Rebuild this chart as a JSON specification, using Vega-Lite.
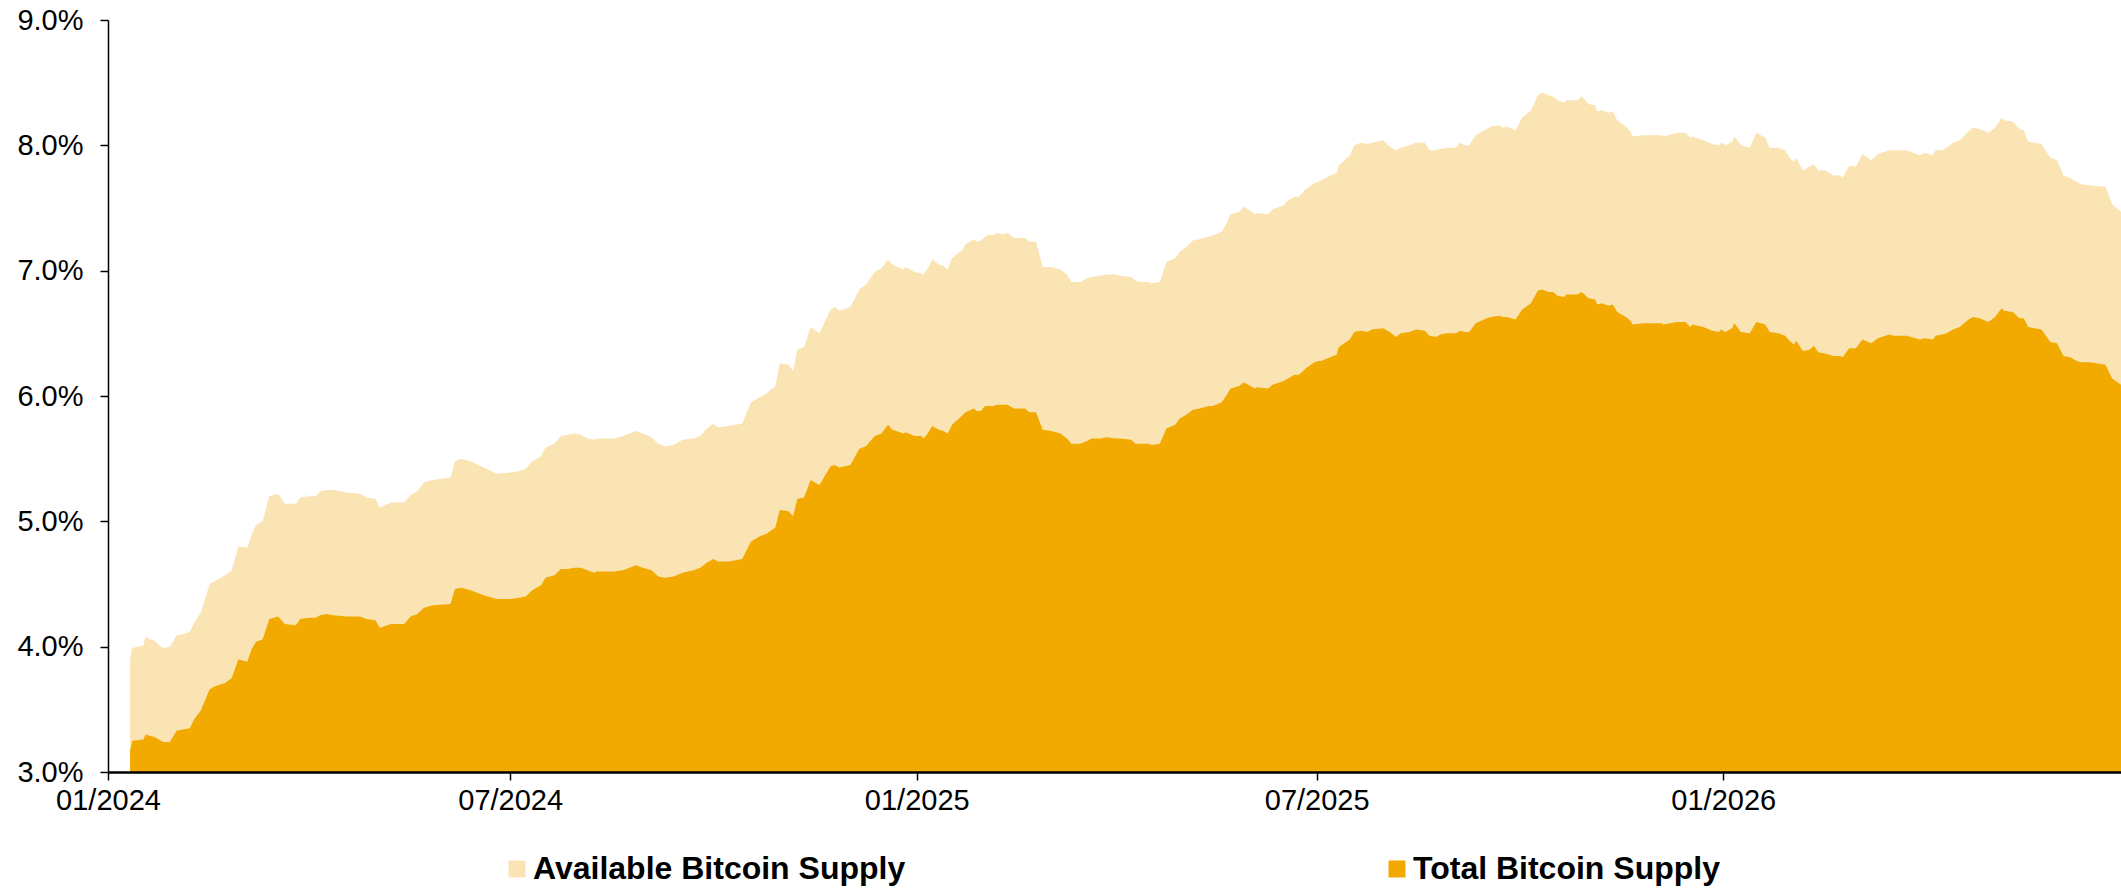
{
  "$schema": "https://vega.github.io/schema/vega-lite/v6.json",
  "width": 2013,
  "height": 752,
  "autosize": {"type": "none"},
  "padding": {"left": 108, "top": 20, "right": 0, "bottom": 116},
  "background": "white",
  "config": {"view": {"stroke": null}, "font": "Liberation Sans"},
  "data": {"values": [
    {"date": "2024-01-11", "available": 3.90, "total": 3.17},
    {"date": "2024-01-12", "available": 3.99, "total": 3.25},
    {"date": "2024-01-17", "available": 4.01, "total": 3.26},
    {"date": "2024-01-18", "available": 4.08, "total": 3.30},
    {"date": "2024-01-20", "available": 4.06, "total": 3.29},
    {"date": "2024-01-22", "available": 4.05, "total": 3.28},
    {"date": "2024-01-25", "available": 4.00, "total": 3.25},
    {"date": "2024-01-26", "available": 3.99, "total": 3.24},
    {"date": "2024-01-29", "available": 4.00, "total": 3.24},
    {"date": "2024-02-01", "available": 4.09, "total": 3.33},
    {"date": "2024-02-04", "available": 4.10, "total": 3.34},
    {"date": "2024-02-07", "available": 4.12, "total": 3.35},
    {"date": "2024-02-09", "available": 4.19, "total": 3.42},
    {"date": "2024-02-12", "available": 4.27, "total": 3.49},
    {"date": "2024-02-16", "available": 4.50, "total": 3.66},
    {"date": "2024-02-18", "available": 4.52, "total": 3.68},
    {"date": "2024-02-21", "available": 4.55, "total": 3.70},
    {"date": "2024-02-23", "available": 4.57, "total": 3.71},
    {"date": "2024-02-26", "available": 4.61, "total": 3.75},
    {"date": "2024-02-29", "available": 4.80, "total": 3.90},
    {"date": "2024-03-04", "available": 4.79, "total": 3.88},
    {"date": "2024-03-06", "available": 4.89, "total": 3.98},
    {"date": "2024-03-08", "available": 4.97, "total": 4.04},
    {"date": "2024-03-11", "available": 5.00, "total": 4.06},
    {"date": "2024-03-14", "available": 5.20, "total": 4.22},
    {"date": "2024-03-18", "available": 5.22, "total": 4.24},
    {"date": "2024-03-21", "available": 5.14, "total": 4.18},
    {"date": "2024-03-26", "available": 5.14, "total": 4.17},
    {"date": "2024-03-28", "available": 5.19, "total": 4.22},
    {"date": "2024-04-01", "available": 5.20, "total": 4.23},
    {"date": "2024-04-04", "available": 5.20, "total": 4.23},
    {"date": "2024-04-06", "available": 5.24, "total": 4.25},
    {"date": "2024-04-09", "available": 5.25, "total": 4.26},
    {"date": "2024-04-12", "available": 5.25, "total": 4.25},
    {"date": "2024-04-18", "available": 5.23, "total": 4.24},
    {"date": "2024-04-24", "available": 5.22, "total": 4.24},
    {"date": "2024-04-27", "available": 5.19, "total": 4.22},
    {"date": "2024-05-01", "available": 5.18, "total": 4.21},
    {"date": "2024-05-03", "available": 5.11, "total": 4.15},
    {"date": "2024-05-08", "available": 5.15, "total": 4.18},
    {"date": "2024-05-12", "available": 5.15, "total": 4.18},
    {"date": "2024-05-14", "available": 5.15, "total": 4.18},
    {"date": "2024-05-17", "available": 5.21, "total": 4.24},
    {"date": "2024-05-20", "available": 5.24, "total": 4.26},
    {"date": "2024-05-23", "available": 5.31, "total": 4.31},
    {"date": "2024-05-27", "available": 5.33, "total": 4.33},
    {"date": "2024-06-04", "available": 5.35, "total": 4.34},
    {"date": "2024-06-06", "available": 5.48, "total": 4.46},
    {"date": "2024-06-09", "available": 5.50, "total": 4.47},
    {"date": "2024-06-13", "available": 5.48, "total": 4.45},
    {"date": "2024-06-19", "available": 5.43, "total": 4.41},
    {"date": "2024-06-25", "available": 5.38, "total": 4.38},
    {"date": "2024-07-01", "available": 5.39, "total": 4.38},
    {"date": "2024-07-05", "available": 5.40, "total": 4.39},
    {"date": "2024-07-08", "available": 5.42, "total": 4.40},
    {"date": "2024-07-11", "available": 5.48, "total": 4.45},
    {"date": "2024-07-15", "available": 5.52, "total": 4.49},
    {"date": "2024-07-17", "available": 5.59, "total": 4.55},
    {"date": "2024-07-21", "available": 5.62, "total": 4.57},
    {"date": "2024-07-24", "available": 5.68, "total": 4.62},
    {"date": "2024-07-27", "available": 5.69, "total": 4.62},
    {"date": "2024-07-30", "available": 5.70, "total": 4.63},
    {"date": "2024-08-02", "available": 5.69, "total": 4.63},
    {"date": "2024-08-05", "available": 5.66, "total": 4.61},
    {"date": "2024-08-08", "available": 5.65, "total": 4.59},
    {"date": "2024-08-09", "available": 5.66, "total": 4.60},
    {"date": "2024-08-14", "available": 5.66, "total": 4.60},
    {"date": "2024-08-17", "available": 5.66, "total": 4.60},
    {"date": "2024-08-21", "available": 5.68, "total": 4.61},
    {"date": "2024-08-24", "available": 5.70, "total": 4.63},
    {"date": "2024-08-27", "available": 5.72, "total": 4.65},
    {"date": "2024-08-30", "available": 5.70, "total": 4.63},
    {"date": "2024-09-03", "available": 5.67, "total": 4.61},
    {"date": "2024-09-06", "available": 5.62, "total": 4.56},
    {"date": "2024-09-09", "available": 5.60, "total": 4.55},
    {"date": "2024-09-13", "available": 5.61, "total": 4.56},
    {"date": "2024-09-17", "available": 5.65, "total": 4.59},
    {"date": "2024-09-22", "available": 5.66, "total": 4.61},
    {"date": "2024-09-25", "available": 5.68, "total": 4.63},
    {"date": "2024-09-28", "available": 5.74, "total": 4.67},
    {"date": "2024-10-01", "available": 5.78, "total": 4.70},
    {"date": "2024-10-03", "available": 5.75, "total": 4.68},
    {"date": "2024-10-08", "available": 5.76, "total": 4.68},
    {"date": "2024-10-11", "available": 5.77, "total": 4.69},
    {"date": "2024-10-14", "available": 5.78, "total": 4.70},
    {"date": "2024-10-18", "available": 5.95, "total": 4.84},
    {"date": "2024-10-22", "available": 5.99, "total": 4.88},
    {"date": "2024-10-25", "available": 6.02, "total": 4.90},
    {"date": "2024-10-29", "available": 6.08, "total": 4.95},
    {"date": "2024-10-31", "available": 6.26, "total": 5.09},
    {"date": "2024-11-04", "available": 6.25, "total": 5.08},
    {"date": "2024-11-06", "available": 6.20, "total": 5.04},
    {"date": "2024-11-08", "available": 6.37, "total": 5.18},
    {"date": "2024-11-11", "available": 6.39, "total": 5.19},
    {"date": "2024-11-14", "available": 6.55, "total": 5.33},
    {"date": "2024-11-18", "available": 6.50, "total": 5.29},
    {"date": "2024-11-23", "available": 6.69, "total": 5.44},
    {"date": "2024-11-25", "available": 6.71, "total": 5.45},
    {"date": "2024-11-27", "available": 6.68, "total": 5.43},
    {"date": "2024-12-02", "available": 6.71, "total": 5.45},
    {"date": "2024-12-06", "available": 6.85, "total": 5.58},
    {"date": "2024-12-09", "available": 6.89, "total": 5.60},
    {"date": "2024-12-13", "available": 6.99, "total": 5.68},
    {"date": "2024-12-16", "available": 7.02, "total": 5.70},
    {"date": "2024-12-19", "available": 7.09, "total": 5.77},
    {"date": "2024-12-21", "available": 7.05, "total": 5.73},
    {"date": "2024-12-26", "available": 7.01, "total": 5.70},
    {"date": "2024-12-27", "available": 7.03, "total": 5.71},
    {"date": "2024-12-31", "available": 6.99, "total": 5.68},
    {"date": "2025-01-03", "available": 6.98, "total": 5.68},
    {"date": "2025-01-04", "available": 6.97, "total": 5.66},
    {"date": "2025-01-06", "available": 7.02, "total": 5.70},
    {"date": "2025-01-08", "available": 7.09, "total": 5.76},
    {"date": "2025-01-11", "available": 7.05, "total": 5.73},
    {"date": "2025-01-13", "available": 7.04, "total": 5.72},
    {"date": "2025-01-15", "available": 7.01, "total": 5.70},
    {"date": "2025-01-17", "available": 7.10, "total": 5.77},
    {"date": "2025-01-22", "available": 7.17, "total": 5.85},
    {"date": "2025-01-23", "available": 7.21, "total": 5.87},
    {"date": "2025-01-27", "available": 7.25, "total": 5.90},
    {"date": "2025-01-28", "available": 7.23, "total": 5.88},
    {"date": "2025-01-30", "available": 7.24, "total": 5.88},
    {"date": "2025-02-01", "available": 7.27, "total": 5.92},
    {"date": "2025-02-03", "available": 7.29, "total": 5.92},
    {"date": "2025-02-05", "available": 7.28, "total": 5.92},
    {"date": "2025-02-06", "available": 7.30, "total": 5.93},
    {"date": "2025-02-09", "available": 7.29, "total": 5.93},
    {"date": "2025-02-11", "available": 7.30, "total": 5.93},
    {"date": "2025-02-14", "available": 7.26, "total": 5.90},
    {"date": "2025-02-19", "available": 7.26, "total": 5.90},
    {"date": "2025-02-21", "available": 7.23, "total": 5.87},
    {"date": "2025-02-24", "available": 7.23, "total": 5.87},
    {"date": "2025-02-27", "available": 7.03, "total": 5.73},
    {"date": "2025-03-03", "available": 7.03, "total": 5.72},
    {"date": "2025-03-07", "available": 7.01, "total": 5.70},
    {"date": "2025-03-10", "available": 6.97, "total": 5.66},
    {"date": "2025-03-12", "available": 6.91, "total": 5.62},
    {"date": "2025-03-16", "available": 6.91, "total": 5.62},
    {"date": "2025-03-19", "available": 6.94, "total": 5.64},
    {"date": "2025-03-21", "available": 6.95, "total": 5.66},
    {"date": "2025-03-25", "available": 6.96, "total": 5.66},
    {"date": "2025-03-28", "available": 6.97, "total": 5.67},
    {"date": "2025-04-01", "available": 6.97, "total": 5.66},
    {"date": "2025-04-03", "available": 6.96, "total": 5.66},
    {"date": "2025-04-08", "available": 6.95, "total": 5.65},
    {"date": "2025-04-10", "available": 6.92, "total": 5.62},
    {"date": "2025-04-12", "available": 6.91, "total": 5.62},
    {"date": "2025-04-16", "available": 6.91, "total": 5.62},
    {"date": "2025-04-17", "available": 6.90, "total": 5.61},
    {"date": "2025-04-21", "available": 6.91, "total": 5.62},
    {"date": "2025-04-24", "available": 7.07, "total": 5.74},
    {"date": "2025-04-28", "available": 7.10, "total": 5.77},
    {"date": "2025-04-30", "available": 7.15, "total": 5.82},
    {"date": "2025-05-03", "available": 7.19, "total": 5.85},
    {"date": "2025-05-06", "available": 7.24, "total": 5.89},
    {"date": "2025-05-09", "available": 7.25, "total": 5.90},
    {"date": "2025-05-13", "available": 7.27, "total": 5.92},
    {"date": "2025-05-15", "available": 7.28, "total": 5.92},
    {"date": "2025-05-19", "available": 7.31, "total": 5.95},
    {"date": "2025-05-21", "available": 7.37, "total": 6.00},
    {"date": "2025-05-23", "available": 7.45, "total": 6.06},
    {"date": "2025-05-27", "available": 7.47, "total": 6.08},
    {"date": "2025-05-29", "available": 7.51, "total": 6.11},
    {"date": "2025-06-03", "available": 7.45, "total": 6.06},
    {"date": "2025-06-04", "available": 7.46, "total": 6.07},
    {"date": "2025-06-09", "available": 7.45, "total": 6.06},
    {"date": "2025-06-11", "available": 7.49, "total": 6.09},
    {"date": "2025-06-16", "available": 7.52, "total": 6.12},
    {"date": "2025-06-18", "available": 7.56, "total": 6.14},
    {"date": "2025-06-21", "available": 7.59, "total": 6.17},
    {"date": "2025-06-23", "available": 7.59, "total": 6.17},
    {"date": "2025-06-26", "available": 7.65, "total": 6.22},
    {"date": "2025-06-30", "available": 7.70, "total": 6.27},
    {"date": "2025-07-02", "available": 7.71, "total": 6.28},
    {"date": "2025-07-03", "available": 7.72, "total": 6.28},
    {"date": "2025-07-07", "available": 7.76, "total": 6.31},
    {"date": "2025-07-10", "available": 7.78, "total": 6.33},
    {"date": "2025-07-11", "available": 7.84, "total": 6.39},
    {"date": "2025-07-16", "available": 7.92, "total": 6.45},
    {"date": "2025-07-18", "available": 8.00, "total": 6.51},
    {"date": "2025-07-21", "available": 8.02, "total": 6.52},
    {"date": "2025-07-24", "available": 8.01, "total": 6.51},
    {"date": "2025-07-26", "available": 8.02, "total": 6.53},
    {"date": "2025-07-31", "available": 8.04, "total": 6.54},
    {"date": "2025-08-03", "available": 7.99, "total": 6.51},
    {"date": "2025-08-06", "available": 7.96, "total": 6.47},
    {"date": "2025-08-08", "available": 7.98, "total": 6.50},
    {"date": "2025-08-12", "available": 8.00, "total": 6.51},
    {"date": "2025-08-15", "available": 8.02, "total": 6.53},
    {"date": "2025-08-19", "available": 8.02, "total": 6.52},
    {"date": "2025-08-21", "available": 7.96, "total": 6.48},
    {"date": "2025-08-24", "available": 7.96, "total": 6.47},
    {"date": "2025-08-26", "available": 7.97, "total": 6.49},
    {"date": "2025-08-29", "available": 7.98, "total": 6.50},
    {"date": "2025-09-02", "available": 7.98, "total": 6.50},
    {"date": "2025-09-04", "available": 8.02, "total": 6.52},
    {"date": "2025-09-06", "available": 8.00, "total": 6.51},
    {"date": "2025-09-08", "available": 8.00, "total": 6.51},
    {"date": "2025-09-11", "available": 8.08, "total": 6.58},
    {"date": "2025-09-16", "available": 8.13, "total": 6.62},
    {"date": "2025-09-18", "available": 8.15, "total": 6.63},
    {"date": "2025-09-22", "available": 8.16, "total": 6.64},
    {"date": "2025-09-23", "available": 8.14, "total": 6.63},
    {"date": "2025-09-25", "available": 8.15, "total": 6.63},
    {"date": "2025-09-29", "available": 8.12, "total": 6.61},
    {"date": "2025-10-02", "available": 8.22, "total": 6.69},
    {"date": "2025-10-06", "available": 8.28, "total": 6.74},
    {"date": "2025-10-09", "available": 8.40, "total": 6.84},
    {"date": "2025-10-11", "available": 8.42, "total": 6.85},
    {"date": "2025-10-14", "available": 8.40, "total": 6.83},
    {"date": "2025-10-16", "available": 8.39, "total": 6.83},
    {"date": "2025-10-18", "available": 8.36, "total": 6.80},
    {"date": "2025-10-21", "available": 8.34, "total": 6.79},
    {"date": "2025-10-22", "available": 8.36, "total": 6.81},
    {"date": "2025-10-27", "available": 8.36, "total": 6.81},
    {"date": "2025-10-29", "available": 8.39, "total": 6.83},
    {"date": "2025-11-01", "available": 8.33, "total": 6.78},
    {"date": "2025-11-04", "available": 8.32, "total": 6.77},
    {"date": "2025-11-05", "available": 8.27, "total": 6.73},
    {"date": "2025-11-07", "available": 8.28, "total": 6.74},
    {"date": "2025-11-10", "available": 8.26, "total": 6.72},
    {"date": "2025-11-12", "available": 8.27, "total": 6.73},
    {"date": "2025-11-14", "available": 8.20, "total": 6.67},
    {"date": "2025-11-18", "available": 8.15, "total": 6.63},
    {"date": "2025-11-20", "available": 8.11, "total": 6.60},
    {"date": "2025-11-21", "available": 8.07, "total": 6.57},
    {"date": "2025-11-26", "available": 8.08, "total": 6.58},
    {"date": "2025-12-04", "available": 8.08, "total": 6.58},
    {"date": "2025-12-05", "available": 8.07, "total": 6.57},
    {"date": "2025-12-11", "available": 8.10, "total": 6.59},
    {"date": "2025-12-15", "available": 8.10, "total": 6.59},
    {"date": "2025-12-17", "available": 8.06, "total": 6.55},
    {"date": "2025-12-18", "available": 8.07, "total": 6.57},
    {"date": "2025-12-23", "available": 8.04, "total": 6.55},
    {"date": "2025-12-27", "available": 8.01, "total": 6.52},
    {"date": "2025-12-30", "available": 8.00, "total": 6.51},
    {"date": "2025-12-31", "available": 8.02, "total": 6.53},
    {"date": "2026-01-02", "available": 8.00, "total": 6.51},
    {"date": "2026-01-05", "available": 8.03, "total": 6.54},
    {"date": "2026-01-06", "available": 8.07, "total": 6.58},
    {"date": "2026-01-09", "available": 8.00, "total": 6.51},
    {"date": "2026-01-13", "available": 7.98, "total": 6.50},
    {"date": "2026-01-16", "available": 8.10, "total": 6.59},
    {"date": "2026-01-20", "available": 8.06, "total": 6.57},
    {"date": "2026-01-22", "available": 7.98, "total": 6.51},
    {"date": "2026-01-26", "available": 7.98, "total": 6.50},
    {"date": "2026-01-29", "available": 7.96, "total": 6.48},
    {"date": "2026-01-31", "available": 7.90, "total": 6.44},
    {"date": "2026-02-02", "available": 7.87, "total": 6.41},
    {"date": "2026-02-03", "available": 7.90, "total": 6.44},
    {"date": "2026-02-06", "available": 7.80, "total": 6.36},
    {"date": "2026-02-09", "available": 7.83, "total": 6.37},
    {"date": "2026-02-11", "available": 7.85, "total": 6.40},
    {"date": "2026-02-13", "available": 7.80, "total": 6.35},
    {"date": "2026-02-16", "available": 7.80, "total": 6.34},
    {"date": "2026-02-20", "available": 7.76, "total": 6.32},
    {"date": "2026-02-23", "available": 7.76, "total": 6.32},
    {"date": "2026-02-24", "available": 7.74, "total": 6.31},
    {"date": "2026-02-27", "available": 7.84, "total": 6.38},
    {"date": "2026-03-02", "available": 7.83, "total": 6.38},
    {"date": "2026-03-05", "available": 7.93, "total": 6.45},
    {"date": "2026-03-09", "available": 7.88, "total": 6.42},
    {"date": "2026-03-12", "available": 7.93, "total": 6.46},
    {"date": "2026-03-17", "available": 7.96, "total": 6.49},
    {"date": "2026-03-19", "available": 7.96, "total": 6.48},
    {"date": "2026-03-23", "available": 7.96, "total": 6.48},
    {"date": "2026-03-25", "available": 7.96, "total": 6.48},
    {"date": "2026-03-31", "available": 7.92, "total": 6.45},
    {"date": "2026-04-02", "available": 7.94, "total": 6.46},
    {"date": "2026-04-06", "available": 7.92, "total": 6.45},
    {"date": "2026-04-07", "available": 7.96, "total": 6.48},
    {"date": "2026-04-10", "available": 7.96, "total": 6.49},
    {"date": "2026-04-12", "available": 7.98, "total": 6.50},
    {"date": "2026-04-13", "available": 7.99, "total": 6.51},
    {"date": "2026-04-15", "available": 8.02, "total": 6.53},
    {"date": "2026-04-18", "available": 8.04, "total": 6.55},
    {"date": "2026-04-22", "available": 8.11, "total": 6.61},
    {"date": "2026-04-24", "available": 8.14, "total": 6.63},
    {"date": "2026-04-27", "available": 8.13, "total": 6.62},
    {"date": "2026-05-01", "available": 8.10, "total": 6.59},
    {"date": "2026-05-04", "available": 8.14, "total": 6.63},
    {"date": "2026-05-07", "available": 8.22, "total": 6.70},
    {"date": "2026-05-08", "available": 8.20, "total": 6.68},
    {"date": "2026-05-12", "available": 8.19, "total": 6.67},
    {"date": "2026-05-15", "available": 8.13, "total": 6.62},
    {"date": "2026-05-17", "available": 8.12, "total": 6.62},
    {"date": "2026-05-19", "available": 8.03, "total": 6.55},
    {"date": "2026-05-25", "available": 8.01, "total": 6.53},
    {"date": "2026-05-29", "available": 7.90, "total": 6.43},
    {"date": "2026-06-01", "available": 7.88, "total": 6.42},
    {"date": "2026-06-04", "available": 7.76, "total": 6.32},
    {"date": "2026-06-07", "available": 7.74, "total": 6.31},
    {"date": "2026-06-10", "available": 7.71, "total": 6.28},
    {"date": "2026-06-12", "available": 7.69, "total": 6.27},
    {"date": "2026-06-16", "available": 7.68, "total": 6.27},
    {"date": "2026-06-23", "available": 7.67, "total": 6.25},
    {"date": "2026-06-26", "available": 7.53, "total": 6.14},
    {"date": "2026-06-30", "available": 7.47, "total": 6.09}
  ]},
  "encoding": {
    "x": {
      "field": "date",
      "type": "temporal",
      "scale": {"domain": [{"year": 2024, "month": 1, "date": 1}, {"year": 2026, "month": 6, "date": 30}]},
      "axis": {
        "title": null,
        "values": [
          {"year": 2024, "month": 1, "date": 1},
          {"year": 2024, "month": 7, "date": 1},
          {"year": 2025, "month": 1, "date": 1},
          {"year": 2025, "month": 7, "date": 1},
          {"year": 2026, "month": 1, "date": 1}
        ],
        "format": "%m/%Y",
        "labelFont": "Liberation Sans",
        "labelFontSize": 29,
        "labelColor": "black",
        "labelFlush": false,
        "labelOverlap": false,
        "labelPadding": 6,
        "domainColor": "black",
        "domainWidth": 2.5,
        "tickColor": "black",
        "tickWidth": 1.5,
        "tickSize": 8,
        "grid": false,
        "zindex": 1
      }
    }
  },
  "layer": [
    {
      "mark": {"type": "area", "interpolate": "linear", "clip": true},
      "encoding": {
        "y": {
          "field": "available",
          "type": "quantitative",
          "stack": null,
          "scale": {"domain": [3, 9], "nice": false, "zero": false},
          "axis": {
            "title": null,
            "values": [3, 4, 5, 6, 7, 8, 9],
            "labelExpr": "format(datum.value, '.1f') + '%'",
            "labelFont": "Liberation Sans",
            "labelFontSize": 29,
            "labelColor": "black",
            "labelPadding": 17,
            "domainColor": "black",
            "domainWidth": 1.5,
            "tickColor": "black",
            "tickWidth": 1.5,
            "tickSize": 8,
            "grid": false,
            "zindex": 1
          }
        },
        "color": {
          "datum": "Available Bitcoin Supply",
          "type": "nominal",
          "scale": {
            "domain": ["Available Bitcoin Supply", "Total Bitcoin Supply"],
            "range": ["#FAE4B3", "#F2AA00"]
          },
          "legend": {
            "title": null,
            "orient": "none",
            "legendX": 393,
            "legendY": 833,
            "direction": "horizontal",
            "columns": 2,
            "columnPadding": 475,
            "symbolType": "square",
            "symbolSize": 289,
            "symbolStrokeWidth": 0,
            "symbolOpacity": 1,
            "labelFont": "Liberation Sans",
            "labelFontSize": 32,
            "labelFontWeight": "bold",
            "labelColor": "black",
            "labelOffset": 0,
            "labelLimit": 1000
          }
        }
      }
    },
    {
      "mark": {"type": "area", "interpolate": "linear", "clip": true},
      "encoding": {
        "y": {
          "field": "total",
          "type": "quantitative",
          "stack": null,
          "scale": {"domain": [3, 9], "nice": false, "zero": false}
        },
        "color": {"datum": "Total Bitcoin Supply", "type": "nominal"}
      }
    }
  ]
}
